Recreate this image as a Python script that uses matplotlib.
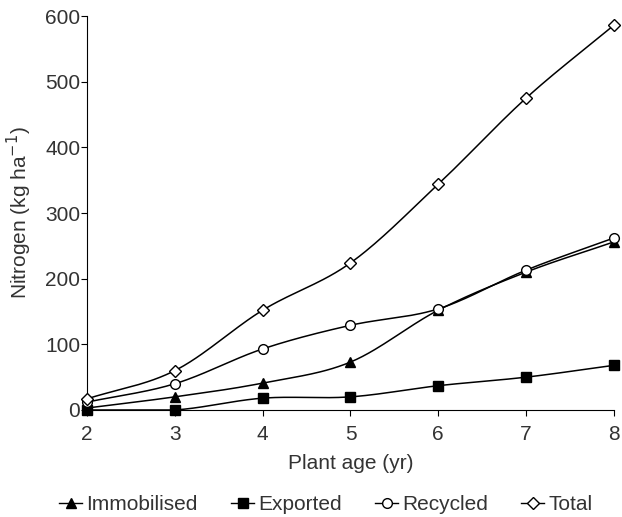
import matplotlib.pyplot as plt
import numpy as np

plt.rcParams['font.family'] = ['Liberation Sans', 'DejaVu Sans']
plt.rcParams['text.color'] = '#333333'
plt.rcParams['axes.labelcolor'] = '#333333'
plt.rcParams['xtick.labelcolor'] = '#333333'
plt.rcParams['ytick.labelcolor'] = '#333333'

age = [2, 3, 4, 5, 6, 7, 8]
immobilised = [3, 20, 41, 73, 152, 210, 256]
exported = [0, 0, 18, 20, 37, 50, 68]
recycled = [12, 40, 93, 129, 154, 213, 262]
total = [17, 60, 152, 224, 344, 475, 586]


def smooth(x, y, n=30):
    # catmull-rom curve through the points, like excel's smoothed line
    x = np.asarray(x, float)
    y = np.asarray(y, float)
    px = np.concatenate([[2 * x[0] - x[1]], x, [2 * x[-1] - x[-2]]])
    py = np.concatenate([[2 * y[0] - y[1]], y, [2 * y[-1] - y[-2]]])
    xs, ys = [], []
    t = np.linspace(0, 1, n)
    for i in range(1, len(px) - 2):
        for p, out in ((px, xs), (py, ys)):
            p0, p1, p2, p3 = p[i - 1], p[i], p[i + 1], p[i + 2]
            out.extend(0.5 * (2 * p1 + (-p0 + p2) * t
                              + (2 * p0 - 5 * p1 + 4 * p2 - p3) * t ** 2
                              + (-p0 + 3 * p1 - 3 * p2 + p3) * t ** 3))
    return xs, np.maximum(ys, 0)


fig = plt.figure(figsize=(6.22, 5.17), dpi=100)
ax = fig.add_axes([0.14, 0.207, 0.847, 0.762])

series = [
    ('Immobilised', immobilised, '^', 'black', 7),
    ('Exported', exported, 's', 'black', 7),
    ('Recycled', recycled, 'o', 'white', 7),
    ('Total', total, 'D', 'white', 6),
]

handles = []
for name, vals, mk, fc, ms in series:
    sx, sy = smooth(age, vals)
    ax.plot(sx, sy, color='black', lw=1.1, zorder=2)
    ax.plot(age, vals, ls='none', marker=mk, ms=ms, mfc=fc, mec='black',
            mew=1, zorder=3, clip_on=False)
    h, = ax.plot([], [], color='black', lw=1.0, marker=mk, ms=ms,
                 mfc=fc, mec='black', label=name)
    handles.append(h)

ax.set_xlim(2, 8)
ax.set_ylim(0, 600)
ax.set_xticks(age)
ax.set_yticks([0, 100, 200, 300, 400, 500, 600])
ax.spines['top'].set_visible(False)
ax.spines['right'].set_visible(False)
ax.tick_params(labelsize=15, direction='out', length=4)
ax.tick_params(axis='x', pad=7)
ax.tick_params(axis='y', pad=1)
ax.set_xlabel('Plant age (yr)', fontsize=15, labelpad=7)
ax.set_ylabel('Nitrogen (kg ha$^{-1}$)', fontsize=15, labelpad=8)

fig.legend(handles=handles, loc='lower center', ncol=4, frameon=False,
           fontsize=15, handlelength=1.1, handletextpad=0.2,
           columnspacing=1.6, bbox_to_anchor=(0.524, -0.031))

fig.savefig('out.png', dpi=100)
